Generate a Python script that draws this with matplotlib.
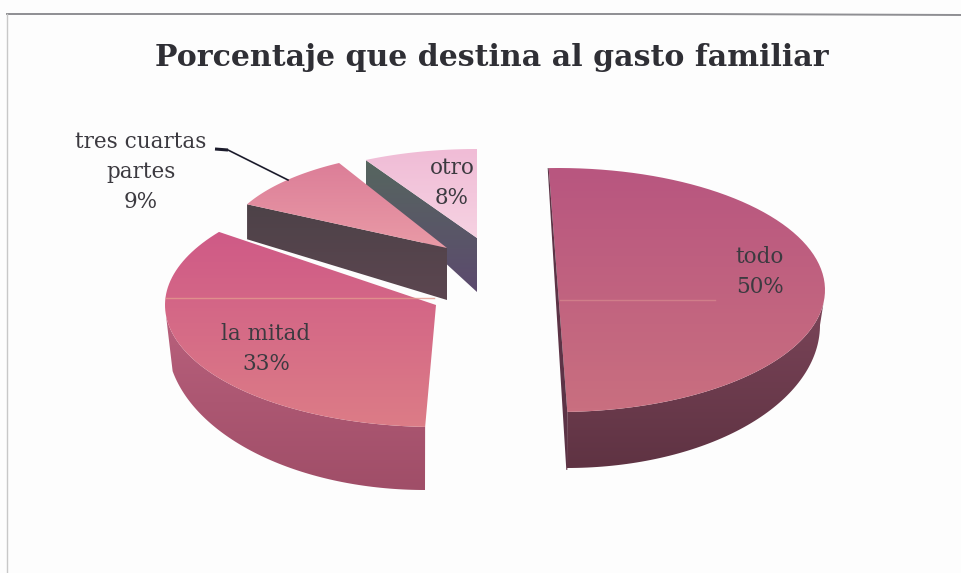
import numpy as np
import matplotlib

matplotlib.use("Agg")
import matplotlib.pyplot as plt
from matplotlib.colors import LinearSegmentedColormap
from matplotlib.patches import Polygon

# data
labels = ["todo", "la mitad", "tres cuartas\npartes", "otro"]
shares = [50, 33, 9, 8]

# geometry of each exploded slice, picture pixels
apex = [(558, 290), (436, 305), (447, 248), (477, 238)]
radii = [(267, 122), (271, 122), (224, 97), (231, 89)]
trim = [(2, 2), (-2.3, -8), (2, 0), (0, 0)]  # perspective nudge of start/end angle
top_cols = [("#b8567f", "#c96f80"), ("#cf5a87", "#dc7c86"), ("#dc7e98", "#e99aa6"), ("#f0bcd6", "#f6d2e2")]

label_pos = [(760, 272), (266, 349), (141, 172), (452, 183)]


def arc(center, rx, ry, a0, a1, n=80):
    t = np.radians(np.linspace(a0, a1, n))
    return np.column_stack([center[0] + rx * np.cos(t), center[1] - ry * np.sin(t)])


def fill(ax, pts, c0, c1, vertical=True):
    """Polygon filled with a two colour gradient."""
    pts = np.asarray(pts)
    cmap = LinearSegmentedColormap.from_list("g", [c0, c1])
    x0, x1, y0, y1 = pts[:, 0].min(), pts[:, 0].max(), pts[:, 1].min(), pts[:, 1].max()
    grad = np.linspace(0, 1, 64).reshape(-1, 1) if vertical else np.linspace(0, 1, 64).reshape(1, -1)
    im = ax.imshow(grad, cmap=cmap, extent=(x0, x1, y1, y0), aspect="auto", origin="upper", zorder=2)
    patch = Polygon(pts, closed=True, fc="none", ec="none", transform=ax.transData)
    ax.add_patch(patch)
    im.set_clip_path(patch)


fig = plt.figure(figsize=(9.61, 5.73), dpi=100, facecolor="#fdfdfd")
ax = fig.add_axes([0, 0, 1, 1])
ax.set_xlim(0, 961)
ax.set_ylim(573, 0)
ax.axis("off")

# frame of the scanned chart
ax.plot([7, 400, 700, 961], [14, 14, 14, 15], color="#8f8f93", lw=1.4, zorder=1)
ax.plot([7, 7], [14, 573], color="#c8c8c8", lw=1.0, zorder=1)

# slice angles come from the shares, clockwise from 12 o'clock
ends = 90 - 3.6 * np.cumsum(shares)
starts = ends + 3.6 * np.array(shares)
angles = [(s + tr[0], e + tr[1]) for s, e, tr in zip(starts, ends, trim)]
a_todo, a_mitad, a_tres, a_otro = angles

# side walls, back to front
c, (rx, ry) = apex[3], radii[3]
p = arc(c, rx, ry, a_otro[0], a_otro[0], 1)[0]
fill(ax, [p, c, (c[0], c[1] + 54), (p[0], p[1] + 30)], "#56665f", "#5c4a6e")
c, (rx, ry) = apex[2], radii[2]
p = arc(c, rx, ry, a_tres[0], a_tres[0], 1)[0]
fill(ax, [p, c, (c[0], c[1] + 52), (p[0], p[1] + 35)], "#4d4248", "#5c4650")

c, (rx, ry) = apex[1], radii[1]
top = arc(c, rx, ry, 185, a_mitad[0] + 360)
bot = arc((c[0] - 11, 340), 258, 150, 270, 192)
fill(ax, np.vstack([top, bot]), "#b8607c", "#a04e68")

c, (rx, ry) = apex[0], radii[0]
top = arc(c, rx, ry, a_todo[1], -6)
bot = arc((567, 325), 253, 143, 0, -90)
fill(ax, np.vstack([top, bot]), "#7a4458", "#5f3343")
# thin sliver of the cut face of "todo"
p0 = arc(c, rx, ry, a_todo[0], a_todo[0], 1)[0]
p1 = arc(c, rx, ry, a_todo[1], a_todo[1], 1)[0]
ax.add_patch(Polygon([p0, p1, (p1[0], p1[1] + 58), (p1[0] - 1, p1[1] + 58), (p0[0] - 1, p0[1])],
                     fc="#5c3346", ec="none", zorder=3))

# top faces
for i in [3, 2, 1, 0]:
    a0, a1 = angles[i]
    pts = np.vstack([arc(apex[i], *radii[i], a0, a1), [apex[i]]])
    fill(ax, pts, *top_cols[i])

# scan streaks
ax.plot([166, 434], [298, 298], color="#e49a8e", lw=1.0, alpha=0.8, zorder=3)
ax.plot([560, 715], [300, 300], color="#d78a90", lw=1.0, alpha=0.7, zorder=3)

# leader of the small label
ax.plot([215, 228], [149, 150], color="#1c1c2c", lw=2.2, zorder=4, solid_capstyle="butt")
ax.plot([228, 288], [150, 180], color="#1c1c2c", lw=1.2, zorder=4)

font = ["DejaVu Serif", "Liberation Serif"]
ax.text(492, 58, "Porcentaje que destina al gasto familiar", ha="center", va="center",
        family=font, fontsize=21.6, fontweight="bold", color="#2f2f35", zorder=5)
for lab, share, (x, y) in zip(labels, shares, label_pos):
    ax.text(x, y, f"{lab}\n{share}%", ha="center", va="center", family=font, fontsize=15.5,
            color="#3c3a40", linespacing=1.5, zorder=5)

fig.savefig("out.png", dpi=100, facecolor=fig.get_facecolor())
